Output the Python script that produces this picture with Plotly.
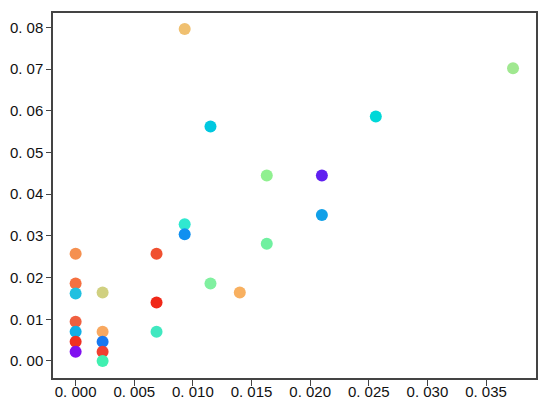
import plotly.graph_objects as go

x_vals = [0.0, 0.0, 0.0, 0.0, 0.0, 0.0, 0.0,
          0.0023, 0.0023, 0.0023, 0.0023, 0.0023,
          0.0069, 0.0069, 0.0069,
          0.0093, 0.0093, 0.0093,
          0.0115, 0.0115,
          0.0140,
          0.0163, 0.0163,
          0.0210, 0.0210,
          0.0256,
          0.0373]
y_vals = [0.0257, 0.0186, 0.0162, 0.0094, 0.0070, 0.0046, 0.0022,
          0.0164, 0.0070, 0.0046, 0.0022, 0.0000,
          0.0257, 0.0140, 0.0070,
          0.0796, 0.0328, 0.0304,
          0.0562, 0.0186,
          0.0164,
          0.0445, 0.0281,
          0.0445, 0.0350,
          0.0586,
          0.0702]
colors = ["#F59050", "#F57040", "#20C0E0", "#F06040", "#10B0E8", "#F03020", "#8010F0",
          "#D0D080", "#F8A860", "#1878F0", "#F04030", "#40F0B0",
          "#F05030", "#F02818", "#40E8C0",
          "#F0C070", "#30E8D0", "#1090F0",
          "#00C8E0", "#80F0A0",
          "#F8B060",
          "#90F090", "#70F0A0",
          "#6020F0", "#10A0E8",
          "#00D8D8",
          "#A0E890"]

x_ticks = [0.0, 0.005, 0.010, 0.015, 0.020, 0.025, 0.030, 0.035]
x_ticktext = ["0. 000", "0. 005", "0. 010", "0. 015", "0. 020", "0. 025", "0. 030", "0. 035"]
y_ticks = [0.0, 0.01, 0.02, 0.03, 0.04, 0.05, 0.06, 0.07, 0.08]
y_ticktext = ["0. 00", "0. 01", "0. 02", "0. 03", "0. 04", "0. 05", "0. 06", "0. 07", "0. 08"]

fig = go.Figure(go.Scatter(
    x=x_vals, y=y_vals, mode="markers",
    marker=dict(size=12, color=colors, line=dict(width=0)),
    hoverinfo="skip",
))

font = dict(family="Liberation Sans, Arial, sans-serif", size=15, color="#111111")

fig.update_layout(
    width=550, height=410,
    margin=dict(l=53, r=14, t=13, b=32),
    paper_bgcolor="white", plot_bgcolor="white",
    showlegend=False,
    font=font,
)
fig.update_xaxes(
    range=[-0.00193, 0.03926],
    tickvals=x_ticks, ticktext=x_ticktext,
    showgrid=False, zeroline=False, automargin=False,
    showline=True, linecolor="#444444", linewidth=1.5, mirror=True,
    ticks="outside", ticklen=6, tickcolor="#444444", tickwidth=1.2,
    ticklabelstandoff=-7,
    tickfont=font,
)
fig.update_yaxes(
    range=[-0.00408, 0.08344],
    tickvals=y_ticks, ticktext=y_ticktext,
    showgrid=False, zeroline=False, automargin=False,
    showline=True, linecolor="#444444", linewidth=1.5, mirror=True,
    ticks="outside", ticklen=5, tickcolor="#444444", tickwidth=1.2,
    tickfont=font,
)

fig.write_html("out.html", config={"displayModeBar": False},
               post_script="document.body.style.margin='0';document.body.style.overflow='hidden';")
